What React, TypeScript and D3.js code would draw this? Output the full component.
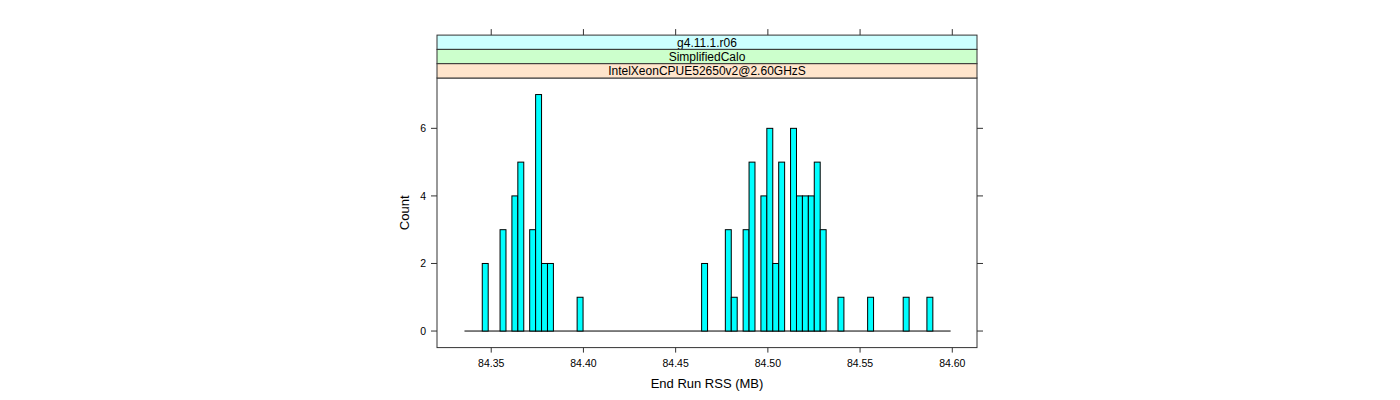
import React from "react";
import * as d3 from "d3";

// ---- data ----
const stripLabels = ["g4.11.1.r06", "SimplifiedCalo", "IntelXeonCPUE52650v2@2.60GHzS"];
const stripColors = ["#ccffff", "#ccffcc", "#ffe5cc"];
const histMin = 84.3355;
const histMax = 84.5991;
const nBins = 82;
const binIndex = [3, 6, 8, 9, 11, 12, 13, 14, 19, 40, 44, 45, 47, 48, 50, 51, 52, 53, 55, 56, 57, 58, 59, 60, 63, 68, 74, 78];
const binCount = [2, 3, 4, 5, 3, 7, 2, 2, 1, 2, 3, 1, 3, 5, 4, 6, 2, 5, 6, 4, 4, 4, 5, 3, 1, 1, 1, 1];
const xTicks = [84.35, 84.4, 84.45, 84.5, 84.55, 84.6];
const yTicks = [0, 2, 4, 6];
const xTitle = "End Run RSS (MB)";
const yTitle = "Count";

export default function App() {
  const W = 1400, H = 400;
  const pL = 437, pR = 977, pT = 78, pB = 347.6;
  const stripH = 14.3;
  const font = "'Liberation Sans', Arial, Helvetica, sans-serif";

  const x = d3.scaleLinear().domain([84.3206, 84.6134]).range([pL, pR]);
  const y = d3.scaleLinear().domain([-0.49, 7.49]).range([pB, pT]);
  const bw = (histMax - histMin) / nBins;
  const stripTop = pT - stripLabels.length * stripH;
  const cx = (pL + pR) / 2;

  return (
    <svg width={W} height={H} style={{ position: "absolute", left: 0, top: 0, background: "#fff" }} fontFamily={font}>
      {/* baseline (zero height bars) */}
      <line x1={x(histMin)} x2={x(histMax)} y1={y(0)} y2={y(0)} stroke="#000" strokeWidth={1} />
      {binIndex.map((b, i) => {
        const x0 = x(histMin + b * bw);
        const x1 = x(histMin + (b + 1) * bw);
        return (
          <rect key={i} x={x0} y={y(binCount[i])} width={x1 - x0} height={y(0) - y(binCount[i])}
            fill="#00ffff" stroke="#000" strokeWidth={1} />
        );
      })}
      {/* panel frame */}
      <rect x={pL} y={pT} width={pR - pL} height={pB - pT} fill="none" stroke="#333" strokeWidth={1} />
      {/* strips */}
      {stripLabels.map((s, i) => {
        const yy = stripTop + i * stripH;
        return (
          <g key={s}>
            <rect x={pL} y={yy} width={pR - pL} height={stripH} fill={stripColors[i]} stroke="#333" strokeWidth={1} />
            <text x={cx} y={yy + stripH / 2} dy="0.36em" textAnchor="middle" fontSize={12}>{s}</text>
          </g>
        );
      })}
      {/* x ticks bottom & top */}
      {xTicks.map((t) => (
        <g key={t}>
          <line x1={x(t)} x2={x(t)} y1={pB} y2={pB + 5} stroke="#333" />
          <line x1={x(t)} x2={x(t)} y1={stripTop} y2={stripTop - 6} stroke="#333" />
          <text x={x(t)} y={367} textAnchor="middle" fontSize={10.5}>{t.toFixed(2)}</text>
        </g>
      ))}
      {/* y ticks left & right */}
      {yTicks.map((t) => (
        <g key={t}>
          <line x1={pL - 6} x2={pL} y1={y(t)} y2={y(t)} stroke="#333" />
          <line x1={pR} x2={pR + 6} y1={y(t)} y2={y(t)} stroke="#333" />
          <text x={426} y={y(t)} dy="0.36em" textAnchor="end" fontSize={10.5}>{t}</text>
        </g>
      ))}
      <text x={cx} y={388} textAnchor="middle" fontSize={13}>{xTitle}</text>
      <text transform={`translate(409,${(pT + pB) / 2}) rotate(-90)`} textAnchor="middle" fontSize={13}>{yTitle}</text>
    </svg>
  );
}
